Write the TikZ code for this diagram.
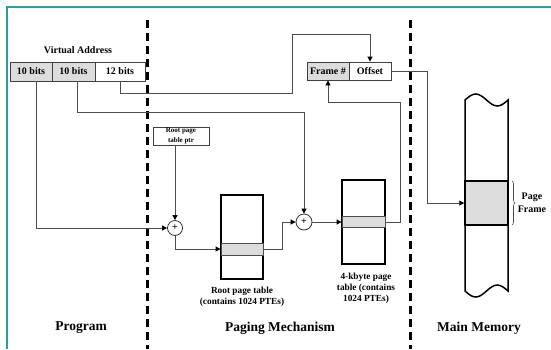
\documentclass[tikz,border=0pt]{standalone}
\usepackage{fontspec}
\setmainfont{Liberation Serif}
\usetikzlibrary{arrows.meta,calc,decorations.pathreplacing}
\definecolor{framec}{HTML}{2A9D9D}
\definecolor{cellgray}{HTML}{DCDCDC}
\begin{document}
\begin{tikzpicture}[x=1pt,y=-1pt,
  conn/.style={draw=black!70, line width=0.9pt},
  arr/.style={-{Triangle[length=5pt,width=5pt,color=black]}},
  field/.style={draw=black!75, line width=0.8pt, minimum height=19pt, inner sep=0pt,
                font=\fontsize{10}{12}\selectfont\bfseries},
  tbl/.style={draw=black, line width=1.5pt, fill=white, minimum width=42pt, minimum height=84pt, inner sep=0pt},
  entry/.style={draw=black!70, line width=0.8pt, fill=cellgray, minimum width=42pt, inner sep=0pt},
  adder/.style={circle, draw=black!80, line width=0.8pt, fill=white, inner sep=0pt,
                font=\fontsize{10}{10}\selectfont\bfseries},
  divider/.style={line width=3pt, dash pattern=on 8pt off 5pt},
  lbl/.style={align=center, font=\fontsize{9.3}{10.8}\selectfont\bfseries},
  title/.style={font=\fontsize{13.5}{15}\selectfont\bfseries}
]
\useasboundingbox (0,0) rectangle (551,349);

% outer frame (top and left edges)
\draw[framec, line width=1.3pt] (551,7) -- (7,7) -- (7,349);

% region dividers
\draw[divider] (147,20) -- (147,349);
\draw[divider] (410,20) -- (410,349);

% virtual address
\node[font=\fontsize{10}{12}\selectfont\bfseries] (va) at (78,50) {Virtual Address};
\node[field, fill=cellgray, minimum width=42pt] (b1) at (31,71.5) {10 bits};
\node[field, fill=cellgray, minimum width=43pt] (b2) at (73.5,71.5) {10 bits};
\node[field, fill=white, minimum width=50pt] (b3) at (120,71.5) {12 bits};

% physical address
\node[field, fill=cellgray, minimum width=42pt, minimum height=18pt] (frame) at (328,71) {Frame \#};
\node[field, fill=white, minimum width=42pt, minimum height=18pt] (offset) at (370,71) {Offset};

% root page table pointer
\node[draw=black!75, line width=0.8pt, minimum width=56pt, minimum height=18pt, inner sep=0pt,
      align=center, font=\fontsize{7}{9.5}\selectfont\bfseries] (rptr) at (181,136) {Root page\\table ptr};

% adders
\node[adder, minimum size=15pt] (add1) at (175,228) {+};
\node[adder, minimum size=16pt] (add2) at (304,222) {+};

% root page table
\node[tbl] (root) at (242,237) {};
\node[entry, minimum height=12pt] (rrow) at (242,249) {};
\node[lbl] (rootlbl) at (242,297) {Root page table\\(contains 1024 PTEs)};

% second-level page table
\node[tbl, minimum width=43pt] (pt) at (363.5,222) {};
\node[entry, minimum width=43pt, minimum height=11pt] (prow) at (363.5,222) {};
\node[lbl] (ptlbl) at (366,288) {4-kbyte page\\table (contains\\1024 PTEs)};

% main memory column
\filldraw[fill=white, draw=black, line width=1.5pt]
  (465,100) sin (475.75,94) cos (486.5,100) sin (497.25,106) cos (508,100)
  -- (508,291) sin (497.25,285) cos (486.5,291) sin (475.75,297) cos (465,291) -- cycle;
\node[draw=black, line width=1.5pt, fill=cellgray, minimum width=43pt, minimum height=44pt, inner sep=0pt]
  (pfr) at (486.5,203) {};
\draw[black!70, line width=0.6pt, decorate, decoration={brace, amplitude=3pt}] (512,181) -- (512,225);
\node[align=center, font=\fontsize{10}{13}\selectfont\bfseries] (pflbl) at (532,203) {Page\\Frame};

% connectors
\draw[conn, arr] (b3.south) |- (292,93) |- (370,34) -- (offset.north);
\draw[conn, arr] ([xshift=4pt]b2.south) -- ++(0,31) -| (add2.north);
\draw[conn, arr] ([xshift=5pt]b1.south) |- (add1.west);
\draw[conn, arr] (rptr.south -| add1) -- (add1.north);
\draw[conn, arr] (add1.south) |- (rrow.west);
\draw[conn, arr] (rrow.east) -- ++(19,0) |- (add2.west);
\draw[conn, arr] (add2.east) -- (prow.west);
\draw[conn, arr] (prow.east) -- ++(15,0) -- ++(0,-120) -| (frame.south);
\draw[conn, arr] (offset.east) -- (427,71) |- (pfr.west);

% region titles
\node[title] (tprog) at (81,328) {Program};
\node[title] (tpage) at (280,328) {Paging Mechanism};
\node[title] (tmem) at (479,328) {Main Memory};
\end{tikzpicture}
\end{document}
